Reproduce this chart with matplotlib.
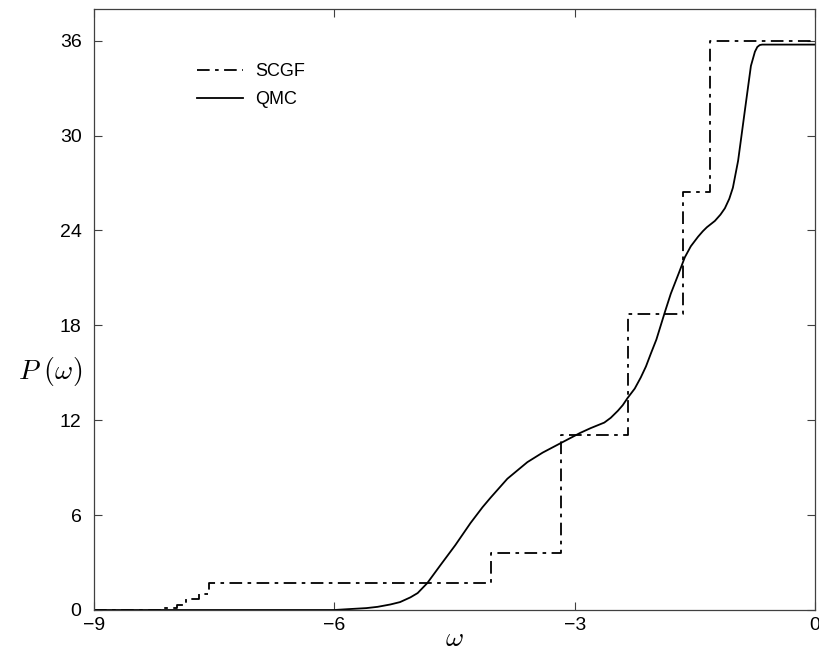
import matplotlib
matplotlib.use("Agg")
import matplotlib.pyplot as plt

plt.rcParams['font.family'] = ['Liberation Sans', 'DejaVu Sans']
plt.rcParams['mathtext.fontset'] = 'cm'

# SCGF step edges and levels
scgf_w = [-9, -8.12, -7.97, -7.85, -7.69, -7.56, -4.05, -3.17, -2.34, -1.65, -1.31, 0]
scgf_p = [0, 0.1, 0.3, 0.7, 1.0, 1.7, 3.6, 11.05, 18.7, 26.4, 36.0, 36.0]

# QMC curve
qmc_w = [-9, -6.0, -5.84, -5.6, -5.46, -5.3, -5.18, -5.05, -4.96, -4.84, -4.675,
         -4.49, -4.3, -4.15, -4.05, -3.84, -3.59, -3.4, -3.175, -2.93, -2.8,
         -2.63, -2.55, -2.46, -2.4, -2.34, -2.25, -2.175, -2.11, -2.05, -1.98,
         -1.925, -1.87, -1.8, -1.7, -1.625, -1.55, -1.46, -1.4, -1.35, -1.25,
         -1.18, -1.125, -1.07, -1.025, -0.96, -0.92, -0.875, -0.8, -0.75, -0.72,
         -0.69, -0.66, 0]
qmc_p = [0, 0, 0.05, 0.12, 0.2, 0.35, 0.5, 0.8, 1.07, 1.7, 2.84,
         4.1, 5.5, 6.5, 7.1, 8.3, 9.35, 9.95, 10.55, 11.2, 11.5,
         11.85, 12.15, 12.6, 12.95, 13.4, 14.0, 14.7, 15.4, 16.2, 17.1,
         18.0, 18.9, 20.0, 21.3, 22.3, 23.0, 23.6, 23.95, 24.2, 24.6,
         25.0, 25.4, 26.0, 26.7, 28.4, 29.9, 31.6, 34.4, 35.3, 35.6,
         35.72, 35.75, 35.75]

fig = plt.figure(figsize=(8.2, 6.55), dpi=100)
ax = fig.add_axes([94 / 820, 45 / 655, 721 / 820, 601 / 655])

ax.plot(scgf_w, scgf_p, drawstyle='steps-post', color='black', lw=1.3,
        dashes=(7, 3, 2, 3), label='SCGF')
ax.plot(qmc_w, qmc_p, color='black', lw=1.3, label='QMC')

ax.set_xlim(-9, 0)
ax.set_ylim(0, 38)
ax.set_xticks([-9, -6, -3, 0])
ax.set_xticklabels(['\u22129', '\u22126', '\u22123', '0'])
ax.set_yticks([0, 6, 12, 18, 24, 30, 36])
ax.tick_params(direction='in', length=6, top=True, right=True, labelsize=14,
               color='#404040')
ax.tick_params(axis='y', pad=9)
ax.tick_params(axis='x', pad=5)
for s in ax.spines.values():
    s.set_linewidth(0.9)
    s.set_color('#404040')

ax.set_xlabel(r'$\omega$', fontsize=20, labelpad=-6)
fig.text(50 / 820, 1 - 372 / 655, r'$P\ (\omega)$', fontsize=20,
         ha='center', va='center')

ax.legend(loc='upper left', bbox_to_anchor=(0.143, 0.91), frameon=False,
          fontsize=13, handlelength=2.55, handletextpad=0.67, labelspacing=0.6,
          borderpad=0, borderaxespad=0)

fig.savefig('out.png', dpi=100)
